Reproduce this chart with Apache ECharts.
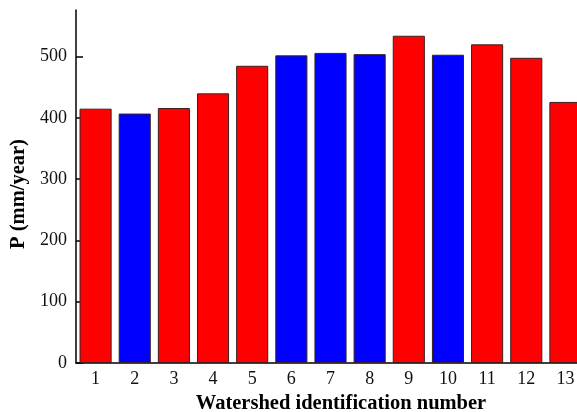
<!DOCTYPE html>
<html>
<head>
<meta charset="utf-8">
<script src="https://cdn.jsdelivr.net/npm/echarts@6/dist/echarts.min.js"></script>
<style>
html,body{margin:0;padding:0;background:#fff;}
#chart{width:577px;height:412px;}
</style>
</head>
<body>
<div id="chart"></div>
<script>
var categories = ['1','2','3','4','5','6','7','8','9','10','11','12','13'];
var values = [415, 407, 416, 440, 485, 502, 506, 504, 534, 503, 520, 498, 426];
var barColors = ['#ff0000','#0000ff','#ff0000','#ff0000','#ff0000','#0000ff','#0000ff','#0000ff','#ff0000','#0000ff','#ff0000','#ff0000','#ff0000'];
var yTicks = [0, 100, 200, 300, 400, 500];
var yMax = 576;

var font = "'Liberation Serif', 'Times New Roman', serif";
var chart = echarts.init(document.getElementById('chart'), null, {renderer:'canvas'});
chart.setOption({
  animation: false,
  backgroundColor: '#ffffff',
  grid: {left: 76, top: 10, bottom: 49, right: -8, containLabel: false, outerBoundsMode: 'none'},
  xAxis: {
    type: 'category',
    data: categories,
    name: 'Watershed identification number',
    nameLocation: 'middle',
    nameGap: 30,
    nameTextStyle: {fontFamily: font, fontWeight: 'bold', fontSize: 20.5, color: '#000', padding: [0,0,0,21]},
    axisLine: {lineStyle: {color: '#000', width: 1.5}},
    axisTick: {inside: true, alignWithLabel: true, length: 6, lineStyle: {color: '#000', width: 1}},
    axisLabel: {fontFamily: font, fontSize: 18, color: '#111', margin: 7}
  },
  yAxis: {
    type: 'value',
    min: 0,
    max: yMax,
    interval: 100,
    name: 'P (mm/year)',
    nameLocation: 'middle',
    nameGap: 46,
    nameRotate: 90,
    nameTextStyle: {fontFamily: font, fontWeight: 'bold', fontSize: 20.5, color: '#000', padding: [0,15,0,0]},
    splitLine: {show: false},
    axisLine: {show: true, lineStyle: {color: '#000', width: 1.5}},
    axisTick: {show: true, inside: true, length: 7, customValues: yTicks, lineStyle: {color: '#000', width: 1.5}},
    axisLabel: {fontFamily: font, fontSize: 18, color: '#111', margin: 9, customValues: yTicks}
  },
  series: [{
    type: 'bar',
    barCategoryGap: '18%',
    data: values.map(function(v, i){
      return {value: v, itemStyle: {color: barColors[i], borderColor: '#3a2020', borderWidth: 1}};
    })
  }]
});
</script>
</body>
</html>
